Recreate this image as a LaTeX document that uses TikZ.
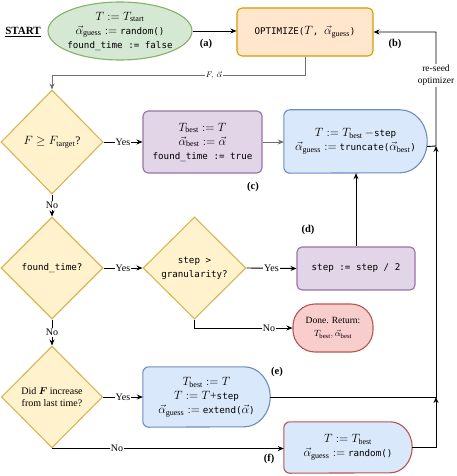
\documentclass[tikz,border=0pt]{standalone}
\usepackage{amsmath}
\usepackage{fontspec}
\setmainfont{Liberation Serif}
\setmonofont{DejaVu Sans Mono}[Scale=0.8]
\usetikzlibrary{shapes.geometric,arrows.meta,backgrounds,calc}
\definecolor{gfill}{HTML}{D5E8D4}\definecolor{gline}{HTML}{82B366}
\definecolor{ofill}{HTML}{FFE6CC}\definecolor{oline}{HTML}{D79B00}
\definecolor{yfill}{HTML}{FFF2CC}\definecolor{yline}{HTML}{D6B656}
\definecolor{pfill}{HTML}{E1D5E7}\definecolor{pline}{HTML}{9673A6}
\definecolor{bfill}{HTML}{DAE8FC}\definecolor{bline}{HTML}{6C8EBF}
\definecolor{rfill}{HTML}{F8CECC}\definecolor{rline}{HTML}{B85450}
\definecolor{cgray}{HTML}{6E6E6E}
\newcommand\delayshape[5]{%
\begin{scope}[on background layer]
\draw[line width=1.1pt, draw=#2, fill=#3] ([xshift=-#4]#1.north east) arc[start angle=90,end angle=-90,x radius=#4,y radius=#5] -- ([xshift=6pt]#1.south west) arc[start angle=270,end angle=180,radius=6pt] -- ([yshift=-6pt]#1.north west) arc[start angle=180,end angle=90,radius=6pt] -- cycle;
\end{scope}}
\tikzset{
  txt/.style={align=center, font=\fontsize{11.5}{14}\selectfont},
  rbox/.style={rectangle, draw, line width=1.1pt, rounded corners=5pt, inner sep=0pt, txt},
  dec/.style={diamond, draw=yline, fill=yfill, line width=1.1pt, inner sep=0pt, txt},
  dly/.style={rectangle, inner sep=0pt, txt},
  conn/.style={line width=0.9pt, -{Stealth[length=6pt,width=5pt]}},
  lab/.style={fill=white, inner sep=1pt, font=\fontsize{10}{12}\selectfont},
  tag/.style={font=\bfseries\fontsize{10.5}{12}\selectfont},
}
\begin{document}
\begin{tikzpicture}[x=1pt,y=1pt]
\useasboundingbox (0,0) rectangle (457,-476);
% nodes
\node[font=\bfseries\fontsize{11}{13}\selectfont] (st) at (23,-32) {\underline{START}};
\node[ellipse, draw=gline, fill=gfill, line width=1.1pt, inner xsep=-6pt, inner ysep=-3pt, minimum width=144pt, minimum height=58pt, txt] (init) at (120,-31)
  {$T := T_{\mathrm{start}}$\\ $\vec{\alpha}_{\mathrm{guess}} :=$ \texttt{random()}\\ \texttt{found\_time := false}};
\node[rbox, draw=oline, fill=ofill, minimum width=136pt, minimum height=48pt] (opt) at (305,-32)
  {\texttt{OPTIMIZE(}$T$\texttt{, }$\vec{\alpha}_{\mathrm{guess}}$\texttt{)}};
\node[dec, minimum width=102pt, minimum height=104pt] (d1) at (52,-142) {$F \geq F_{\mathrm{target}}$?};
\node[rbox, draw=pline, fill=pfill, minimum width=119pt, minimum height=62pt] (c) at (202.5,-142)
  {$T_{\mathrm{best}} := T$\\ $\vec{\alpha}_{\mathrm{best}} := \vec{\alpha}$\\ \texttt{found\_time := true}};
\node[dly, minimum width=143pt, minimum height=63pt] (b1) at (355.5,-141.5)
  {$T := T_{\mathrm{best}}\,{-}$\texttt{step}\\ $\vec{\alpha}_{\mathrm{guess}} :=$ \texttt{truncate(}$\vec{\alpha}_{\mathrm{best}}$\texttt{)}};
\delayshape{b1}{bline}{bfill}{27pt}{31.5pt}
\node[dec, minimum width=102pt, minimum height=102pt] (d2) at (52,-268) {\texttt{found\_time?}};
\node[dec, minimum width=103pt, minimum height=102pt] (d3) at (194.5,-268) {\texttt{step >}\\ \texttt{granularity?}};
\node[rbox, draw=pline, fill=pfill, minimum width=118pt, minimum height=43pt] (step) at (356,-268.5) {\texttt{step := step / 2}};
\node[rectangle, draw=rline, fill=rfill, line width=1.1pt, rounded corners=22pt, minimum width=80pt, minimum height=48pt, inner sep=0pt, align=center, font=\fontsize{9.5}{13}\selectfont] (done) at (333,-328)
  {Done. Return:\\ $T_{\mathrm{best}}, \vec{\alpha}_{\mathrm{best}}$};
\node[dec, minimum width=101pt, minimum height=102pt, font=\fontsize{10}{12.5}\selectfont] (d4) at (52,-397) {Did $\boldsymbol{F}$ increase\\ from last time?};
\node[dly, minimum width=127pt, minimum height=60pt] (e) at (206.5,-397)
  {$T_{\mathrm{best}} := T$\\ $T := T$+\texttt{step}\\ $\vec{\alpha}_{\mathrm{guess}} :=$ \texttt{extend(}$\vec{\alpha}$\texttt{)}};
\delayshape{e}{bline}{bfill}{26pt}{30pt}
\node[dly, minimum width=128pt, minimum height=51pt] (f) at (348,-447.5)
  {$T := T_{\mathrm{best}}$\\ $\vec{\alpha}_{\mathrm{guess}} :=$ \texttt{random()}};
\delayshape{f}{rline}{bfill}{22pt}{25.5pt}
% tags
\node[tag] (ta) at (206,-44) {(a)};
\node[tag] (tb) at (395,-44) {(b)};
\node[tag] (tc) at (253,-187) {(c)};
\node[tag] (td) at (308,-230) {(d)};
\node[tag] (te) at (277,-372) {(e)};
\node[tag] (tf) at (269,-459) {(f)};
% junctions
\coordinate (j1) at (436,-397);
\coordinate (j2) at (436,-146);
% connectors
\draw[conn] (init.east) -- (init.east -| opt.west);
\draw[conn, draw=cgray] (opt.south) -- ++(0,-19) coordinate (k1) -| (d1.north) node[pos=0.18, lab, font=\fontsize{8.5}{10}\selectfont] {$F,\, \vec{\alpha}$};
\draw[conn] (d1.east) -- (c.west) node[midway, lab] {Yes};
\draw[conn, draw=cgray] (c.east) -- (c.east -| b1.west);
\draw[conn] (d1.south) -- (d2.north) node[midway, lab] {No};
\draw[conn] (d2.east) -- (d3.west) node[midway, lab] {Yes};
\draw[conn] (d3.east) -- (step.west) node[midway, lab] {Yes};
\draw[conn] (step.north) -- (step.north |- b1.south);
\draw[conn] (d3.south) |- (done.west) node[pos=0.88, lab] {No};
\draw[conn] (d2.south) -- (d4.north) node[midway, lab] {No};
\draw[conn] (d4.east) -- (e.west) node[midway, lab] {Yes};
\draw[conn] (d4.south) -- (d4.south -| f.west) node[pos=0.28, lab] {No};
\draw[conn] (f.east) -| (j1);
\draw[conn] (e.east) -- (j1) -- (j2);
\draw[conn] ([yshift=-5pt]b1.east) -- (j2) -- (j2 |- opt.east) node[pos=0.62, lab, align=center, font=\fontsize{9.5}{12}\selectfont] {re-seed\\optimizer} -- (opt.east);
\end{tikzpicture}
\end{document}
